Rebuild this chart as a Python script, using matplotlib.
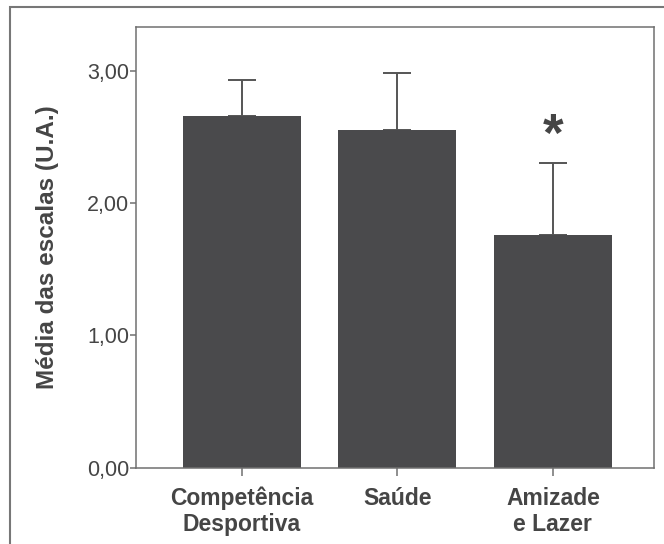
import matplotlib
matplotlib.use('Agg')
import matplotlib.pyplot as plt
from matplotlib.patches import Rectangle

# chart values
categories = ['Competência\nDesportiva', 'Saúde', 'Amizade\ne Lazer']
means = [2.66, 2.55, 1.76]
errors = [0.27, 0.43, 0.54]
signif = ['', '', '*']
yticks = [0.0, 1.0, 2.0, 3.0]
ytick_labels = ['0,00', '1,00', '2,00', '3,00']

plt.rcParams['font.family'] = ['Liberation Sans', 'DejaVu Sans']
text_color = '#454545'
line_color = '#707070'
bar_color = '#4a4a4c'

fig = plt.figure(figsize=(6.64, 5.44), dpi=100)
ax = fig.add_axes([0.2048, 0.1406, 0.7802, 0.8098])

x = range(len(categories))
ax.bar(x, means, width=0.76, color=bar_color, zorder=2)
ax.errorbar(x, means, yerr=[[0] * len(errors), errors], fmt='none',
            ecolor='#555555', elinewidth=1.4, capsize=10, capthick=1.4, zorder=1)

for i, s in enumerate(signif):
    if s:
        ax.text(i, means[i] + errors[i] + 0.2, s, ha='center', va='center',
                fontsize=38, fontweight='bold', color=text_color)

ax.set_xlim(-0.68, 2.65)
ax.set_ylim(0, 3.33)
ax.set_yticks(yticks)
ax.set_yticklabels(ytick_labels, fontsize=15.5, color=text_color)
ax.set_xticks(list(x))
ax.set_xticklabels(categories, fontsize=16.5, fontweight='bold',
                   color=text_color, linespacing=1.15)
ax.tick_params(axis='y', length=4, width=1.1, color=line_color, pad=1)
ax.tick_params(axis='x', length=6, width=1.1, color=line_color, pad=8)
ax.set_ylabel('Média das escalas (U.A.)', fontsize=17.5, fontweight='bold',
              color=text_color, labelpad=20)

for sp in ax.spines.values():
    sp.set_color(line_color)
    sp.set_linewidth(1.1)

# outer frame around the figure
fig.patches.append(Rectangle((0.015, -0.01), 1.0, 0.997, transform=fig.transFigure,
                             fill=False, edgecolor='#777777', linewidth=1.5))

fig.savefig('out.png', dpi=100)
